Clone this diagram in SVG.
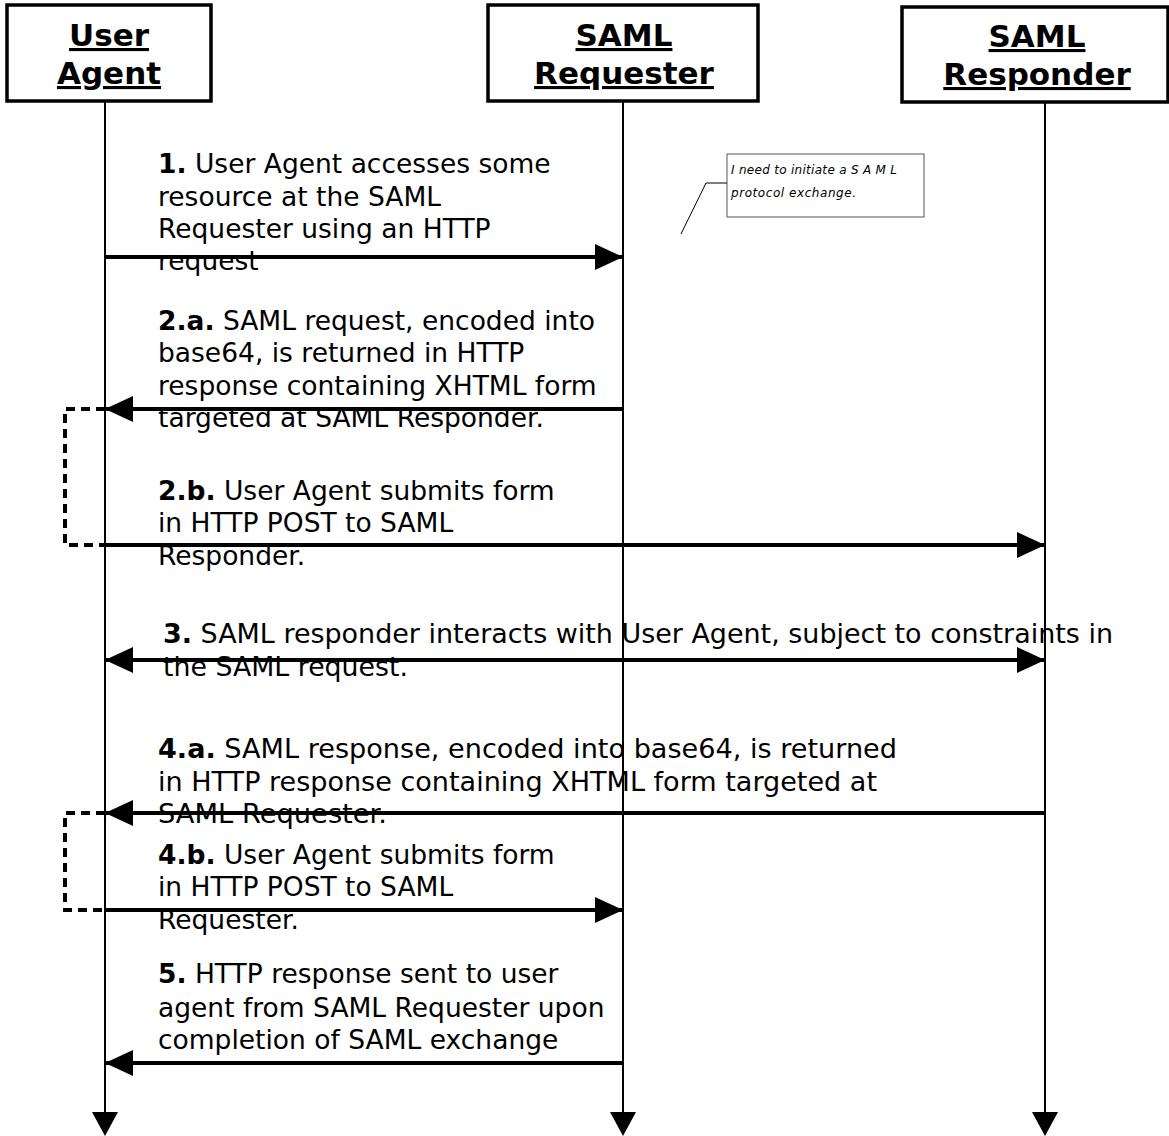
<svg xmlns="http://www.w3.org/2000/svg" width="1169" height="1136" viewBox="0 0 1169 1136">
<style>
.box{fill:#fff;stroke:#000;stroke-width:3.5}
.hdr{font-family:"DejaVu Sans",sans-serif;font-weight:bold;font-size:31px;text-anchor:middle;text-decoration:underline}
.life{stroke:#000;stroke-width:2;fill:none}
.msg{stroke:#000;stroke-width:4;fill:none}
.dash{stroke:#000;stroke-width:4;fill:none;stroke-dasharray:9,6}
.t{font-family:"DejaVu Sans",sans-serif;font-size:26.5px;fill:#000}
.b{font-weight:bold}
.note{font-family:"DejaVu Sans",sans-serif;font-style:italic;font-size:12px;fill:#000}
</style>
<defs>
<marker id="ah" markerUnits="userSpaceOnUse" markerWidth="28" markerHeight="26" refX="28" refY="13" orient="auto">
<path d="M0,0 L28,13 L0,26 z" fill="#000"/>
</marker>
<marker id="ahs" markerUnits="userSpaceOnUse" markerWidth="28" markerHeight="26" refX="0" refY="13" orient="auto">
<path d="M28,0 L0,13 L28,26 z" fill="#000"/>
</marker>
</defs>

<g id="user-agent">
<rect class="box" x="7" y="5" width="204" height="96"/>
<text class="hdr" x="109" y="46">User</text>
<text class="hdr" x="109" y="84">Agent</text>
<line class="life" x1="105" y1="101" x2="105" y2="1113"/>
<polygon points="92,1112 118,1112 105,1136" fill="#000"/>
</g>

<g id="saml-requester">
<rect class="box" x="488" y="5" width="270" height="96"/>
<text class="hdr" x="624" y="46">SAML</text>
<text class="hdr" x="624" y="84">Requester</text>
<line class="life" x1="623" y1="101" x2="623" y2="1113"/>
<polygon points="610,1112 636,1112 623,1136" fill="#000"/>
</g>

<g id="saml-responder">
<rect class="box" x="902" y="7" width="266" height="95"/>
<text class="hdr" x="1037" y="47">SAML</text>
<text class="hdr" x="1037" y="85">Responder</text>
<line class="life" x1="1045" y1="102" x2="1045" y2="1113"/>
<polygon points="1032,1112 1058,1112 1045,1136" fill="#000"/>
</g>

<g id="note">
<rect x="727" y="154" width="197" height="63" fill="#fff" stroke="#555" stroke-width="1"/>
<polyline points="681,234 706,183 727,183" fill="none" stroke="#000" stroke-width="1"/>
<text class="note" x="731" y="174" textLength="166" lengthAdjust="spacing">I need to initiate a S A M L</text>
<text class="note" x="731" y="197" textLength="125" lengthAdjust="spacing">protocol exchange.</text>
</g>

<g id="connectors">
<line class="msg" x1="105" y1="257" x2="623" y2="257" marker-end="url(#ah)"/>
<line class="msg" x1="623" y1="409" x2="105" y2="409" marker-end="url(#ah)"/>
<polyline class="dash" points="105,409 65,409 65,545 105,545"/>
<line class="msg" x1="105" y1="545" x2="1045" y2="545" marker-end="url(#ah)"/>
<line class="msg" x1="105" y1="660" x2="1045" y2="660" marker-start="url(#ahs)" marker-end="url(#ah)"/>
<line class="msg" x1="1045" y1="813" x2="105" y2="813" marker-end="url(#ah)"/>
<polyline class="dash" points="105,813 65,813 65,910 105,910"/>
<line class="msg" x1="105" y1="910" x2="623" y2="910" marker-end="url(#ah)"/>
<line class="msg" x1="623" y1="1063" x2="105" y2="1063" marker-end="url(#ah)"/>
</g>

<g id="labels">
<text class="t" x="158" y="173"><tspan class="b">1.</tspan> User Agent accesses some</text>
<text class="t" x="158" y="206">resource at the SAML</text>
<text class="t" x="158" y="238">Requester using an HTTP</text>
<text class="t" x="158" y="270">request</text>

<text class="t" x="158" y="330"><tspan class="b">2.a.</tspan> SAML request, encoded into</text>
<text class="t" x="158" y="362">base64, is returned in HTTP</text>
<text class="t" x="158" y="395">response containing XHTML form</text>
<text class="t" x="158" y="427">targeted at SAML Responder.</text>

<text class="t" x="158" y="500"><tspan class="b">2.b.</tspan> User Agent submits form</text>
<text class="t" x="158" y="532">in HTTP POST to SAML</text>
<text class="t" x="158" y="565">Responder.</text>

<text class="t" x="163" y="643" textLength="950" lengthAdjust="spacingAndGlyphs"><tspan class="b">3.</tspan> SAML responder interacts with User Agent, subject to constraints in</text>
<text class="t" x="163" y="676" textLength="245" lengthAdjust="spacingAndGlyphs">the SAML request.</text>

<text class="t" x="158" y="758" textLength="739" lengthAdjust="spacingAndGlyphs"><tspan class="b">4.a.</tspan> SAML response,  encoded into base64, is returned</text>
<text class="t" x="158" y="791" textLength="719" lengthAdjust="spacingAndGlyphs">in HTTP response containing XHTML form targeted at</text>
<text class="t" x="158" y="823" textLength="229" lengthAdjust="spacingAndGlyphs">SAML Requester.</text>

<text class="t" x="158" y="864"><tspan class="b">4.b.</tspan> User Agent submits form</text>
<text class="t" x="158" y="896">in HTTP POST to SAML</text>
<text class="t" x="158" y="929">Requester.</text>

<text class="t" x="158" y="983"><tspan class="b">5.</tspan> HTTP response sent to user</text>
<text class="t" x="158" y="1017">agent from SAML Requester upon</text>
<text class="t" x="158" y="1049">completion of SAML exchange</text>
</g>
</svg>
